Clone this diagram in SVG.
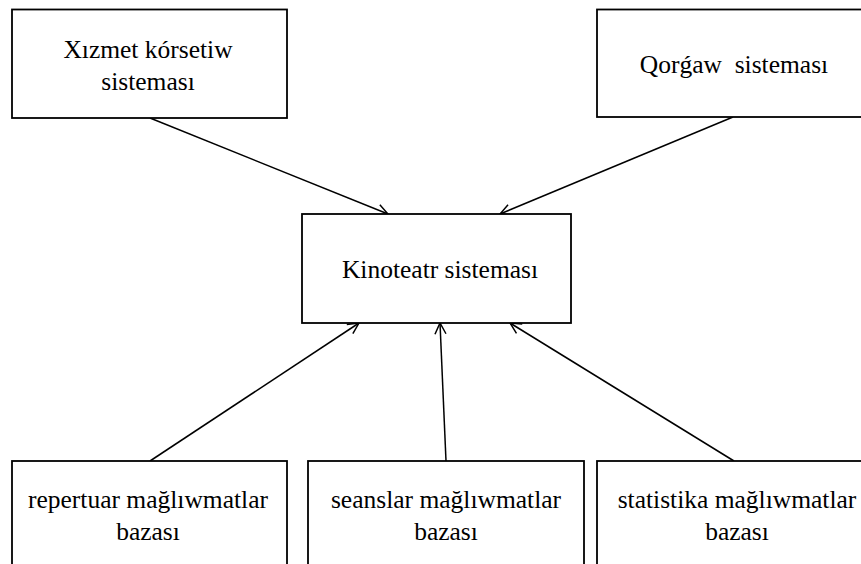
<svg xmlns="http://www.w3.org/2000/svg" width="861" height="564" viewBox="0 0 861 564">
<defs>
<style>
.box{fill:#fff;stroke:#000;stroke-width:1.8}
.t{font-family:"Liberation Serif","Times New Roman",serif;font-size:25.5px;fill:#000;text-anchor:middle}
.c{stroke:#000;stroke-width:1.5;fill:none;marker-end:url(#ah)}
</style>
<marker id="ah" viewBox="0 0 14 14" refX="12.5" refY="7" markerWidth="14" markerHeight="14" markerUnits="userSpaceOnUse" orient="auto">
<path d="M1.5,1.5 L12.5,7 L1.5,12.5" fill="none" stroke="#000" stroke-width="1.5"/>
</marker>
</defs>
<rect width="861" height="564" fill="#fff"/>
<g id="connectors">
<line class="c" x1="150" y1="118" x2="388" y2="214"/>
<line class="c" x1="733" y1="117" x2="500" y2="214"/>
<line class="c" x1="150" y1="461" x2="359" y2="323"/>
<line class="c" x1="446" y1="461" x2="440" y2="323"/>
<line class="c" x1="734" y1="461" x2="510" y2="323"/>
</g>
<g id="xizmet">
<rect class="box" x="12" y="9.5" width="275" height="108.5"/>
<text class="t" x="148" y="58">Xızmet kórsetiw</text>
<text class="t" x="148" y="90">sisteması</text>
</g>
<g id="qorgaw">
<rect class="box" x="597" y="9.5" width="280" height="107.5"/>
<text class="t" x="734" y="73" xml:space="preserve">Qorǵaw  sisteması</text>
</g>
<g id="kinoteatr">
<rect class="box" x="302" y="214" width="269" height="109"/>
<text class="t" x="440" y="278">Kinoteatr sisteması</text>
</g>
<g id="repertuar">
<rect class="box" x="12" y="461" width="275" height="120"/>
<text class="t" x="148" y="508">repertuar mağlıwmatlar</text>
<text class="t" x="148" y="540">bazası</text>
</g>
<g id="seanslar">
<rect class="box" x="308" y="461" width="276" height="120"/>
<text class="t" x="446" y="508">seanslar mağlıwmatlar</text>
<text class="t" x="446" y="540">bazası</text>
</g>
<g id="statistika">
<rect class="box" x="597" y="461" width="280" height="120"/>
<text class="t" x="737" y="508">statistika mağlıwmatlar</text>
<text class="t" x="737" y="540">bazası</text>
</g>
</svg>
